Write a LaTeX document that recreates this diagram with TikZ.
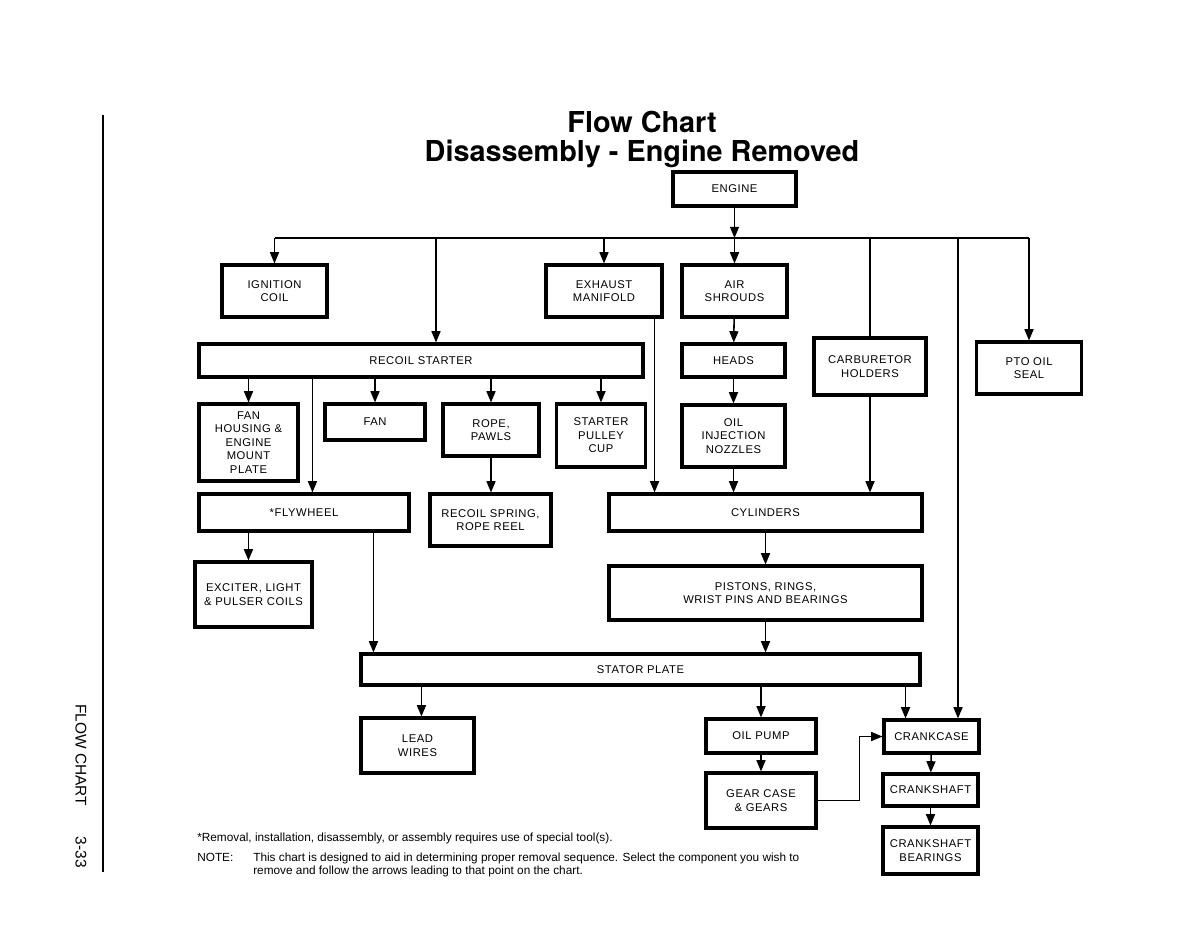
\documentclass[tikz,border=0pt]{standalone}
\usepackage{fontspec}
\setmainfont{Liberation Sans}
\newfontfamily\boxfont[LetterSpace=5]{Liberation Sans}
\newfontfamily\titlefont{TeX Gyre Heros}
\usetikzlibrary{positioning, calc, arrows.meta}

\tikzset{
    wh/.style 2 args={minimum width=#1*0.025cm, minimum height=#2*0.025cm},
}

\begin{document}
\begin{tikzpicture}[
    x=0.025cm, y=-0.025cm,
    part/.style={draw, line width=2.2pt, rectangle, inner sep=2pt, align=center,
                 font=\boxfont\fontsize{8}{9.6}\selectfont},
    link/.style={line width=1.1pt},
    notetext/.style={anchor=base west, inner sep=0pt, font=\fontsize{8.4}{10}\selectfont},
    >={Triangle[length=8pt, width=6.4pt]},
]
\useasboundingbox (0,0) rectangle (1196,927);

% =================================================================
%  TITLE AND PAGE MARGIN
% =================================================================
\node[anchor=base, font=\titlefont\bfseries\fontsize{20.5}{24}\selectfont]
    (title) at (642,132) {Flow Chart};
\node[anchor=base, font=\titlefont\bfseries\fontsize{20.5}{24}\selectfont]
    (subtitle) at (642,161) {Disassembly - Engine Removed};

\draw[line width=1.3pt] (103,115) -- (103,872);
\node[rotate=-90, font=\fontsize{11}{13}\selectfont] (side) at (81,786)
    {FLOW CHART\hspace{2em}3-33};

% =================================================================
%  TOP ROW
% =================================================================
\node[part, wh={123}{34}] (engine) at (734.5,189)  {ENGINE};
\node[part, wh={105}{52}] (ign)    at (274.5,291)  {IGNITION\\COIL};
\node[part, wh={116}{52}] (exh)    at (604,291)    {EXHAUST\\MANIFOLD};
\node[part, wh={105}{52}] (air)    at (734.5,291)  {AIR\\SHROUDS};
\node[part, wh={112}{57}] (carb)   at (870,366.5)  {CARBURETOR\\HOLDERS};
\node[part, wh={105}{52}] (pto)    at (1029,368)   {PTO OIL\\SEAL};

\coordinate (bus)   at (0,238);
\coordinate (drop1) at (436,238);
\coordinate (drop2) at (958,238);

\draw[link, ->] (engine) -- (engine |- bus);
\draw[link]     (ign |- bus) -- (pto |- bus);
\draw[link, ->] (ign |- bus) -- (ign);
\draw[link, ->] (exh |- bus) -- (exh);
\draw[link, ->] (air |- bus) -- (air);
\draw[link]     (carb |- bus) -- (carb);
\draw[link, ->] (pto |- bus) -- (pto);

% =================================================================
%  RECOIL STARTER BRANCH
% =================================================================
\node[part, wh={444}{33}] (recoil)  at (421,360.5)   {RECOIL STARTER};
\node[part, wh={99}{77}]  (fanhs)   at (248.5,442.5) {FAN\\HOUSING \&\\ENGINE\\MOUNT\\PLATE};
\node[part, wh={100}{36}] (fan)     at (375,422)     {FAN};
\node[part, wh={96}{52}]  (rope)    at (491,430)     {ROPE,\\PAWLS};
\node[part, wh={89}{63}]  (pulley)  at (601,435.5)   {STARTER\\PULLEY\\CUP};
\node[part, wh={210}{37}] (fly)     at (304,512.5)   {*FLYWHEEL};
\node[part, wh={121}{52}] (spring)  at (490.5,520)   {RECOIL SPRING,\\ROPE REEL};
\node[part, wh={117}{65}] (exciter) at (253.5,594.5) {EXCITER, LIGHT\\\& PULSER COILS};

\coordinate (rs1) at ($(recoil.south west)+(115,0)$);
\coordinate (fw1) at ($(fly.south west)+(51,0)$);

\draw[link, ->] (drop1) -- (drop1 |- recoil.north);
\draw[link, ->] (fanhs |- recoil.south) -- (fanhs);
\draw[link, ->] (rs1) -- (rs1 |- fly.north);
\draw[link, ->] (fan |- recoil.south) -- (fan);
\draw[link, ->] (rope |- recoil.south) -- (rope);
\draw[link, ->] (pulley |- recoil.south) -- (pulley);
\draw[link, ->] (rope) -- (rope |- spring.north);
\draw[link, ->] (fw1) -- (fw1 |- exciter.north);

% =================================================================
%  CYLINDER BRANCH
% =================================================================
\node[part, wh={103}{33}] (heads)  at (733.5,360.5) {HEADS};
\node[part, wh={103}{62}] (oilinj) at (733.5,436)   {OIL\\INJECTION\\NOZZLES};
\node[part, wh={313}{37}] (cyl)    at (765.5,512.5) {CYLINDERS};
\node[part, wh={313}{54}] (piston) at (765.5,593)   {PISTONS, RINGS,\\WRIST PINS AND BEARINGS};

\coordinate (ex1) at ($(exh.south east)+(-9,0)$);

\draw[link, ->] (air) -- (heads);
\draw[link, ->] (heads) -- (oilinj);
\draw[link, ->] (oilinj) -- (oilinj |- cyl.north);
\draw[link, ->] (ex1) -- (ex1 |- cyl.north);
\draw[link, ->] (carb) -- (carb |- cyl.north);
\draw[link, ->] (piston |- cyl.south) -- (piston);

% =================================================================
%  STATOR PLATE AND BELOW
% =================================================================
\node[part, wh={559}{31}] (stator)     at (640.5,669.5) {STATOR PLATE};
\node[part, wh={113}{55}] (lead)       at (417.5,745.5) {LEAD\\WIRES};
\node[part, wh={110}{34}] (oilpump)    at (761,736)     {OIL PUMP};
\node[part, wh={110}{55}] (gear)       at (761,800.5)   {GEAR CASE\\\& GEARS};
\node[part, wh={95}{33}]  (crankcase)  at (931.5,736.5) {CRANKCASE};
\node[part, wh={95}{32}]  (crankshaft) at (930.5,790)   {CRANKSHAFT};
\node[part, wh={95}{47}]  (bearings)   at (930.5,850.5) {CRANKSHAFT\\BEARINGS};

\coordinate (fw2) at ($(fly.south west)+(176,0)$);
\coordinate (st1) at ($(stator.south west)+(62,0)$);
\coordinate (st2) at ($(stator.south east)+(-16,0)$);

\draw[link, ->] (fw2) -- (fw2 |- stator.north);
\draw[link, ->] (piston) -- (piston |- stator.north);
\draw[link, ->] (st1) -- (st1 |- lead.north);
\draw[link, ->] (oilpump |- stator.south) -- (oilpump);
\draw[link, ->] (st2) -- (st2 |- crankcase.north);
\draw[link, ->] (drop2) -- (drop2 |- crankcase.north);
\draw[link, ->] (oilpump) -- (gear);
\draw[link, ->] (gear.east) -- ++(42,0) |- (crankcase.west);
\draw[link, ->] (crankcase) -- (crankshaft);
\draw[link, ->] (crankshaft) -- (bearings);

% =================================================================
%  NOTES
% =================================================================
\node[notetext] (foot)    at (197,841)
    {*Removal, installation, disassembly, or assembly requires use of special tool(s).};
\node[notetext] (notelbl) at (197,861) {NOTE:};
\node[notetext] (note1)   at (253,861)
    {This chart is designed to aid in determining proper removal sequence. Select the component you wish to};
\node[notetext] (note2)   at (253,874)
    {remove and follow the arrows leading to that point on the chart.};

\end{tikzpicture}
\end{document}
